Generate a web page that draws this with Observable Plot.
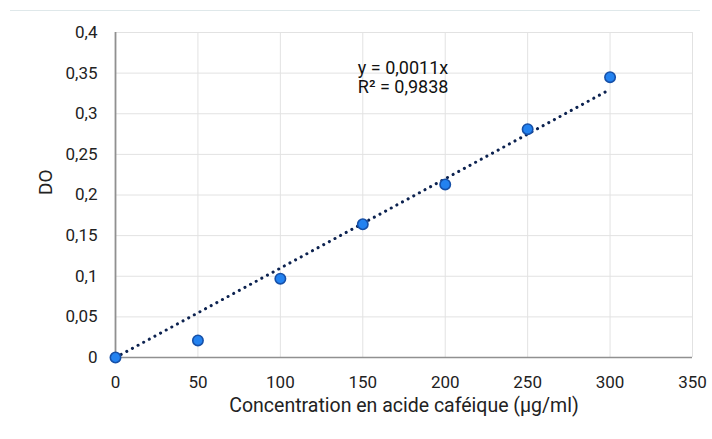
<!DOCTYPE html>
<html><head><meta charset="utf-8">
<script src="https://cdn.jsdelivr.net/npm/d3@7"></script>
<script src="https://cdn.jsdelivr.net/npm/@observablehq/plot@0.6"></script>
<style>
html,body{margin:0;padding:0;background:#fff;}
#wrap{position:relative;width:712px;height:439px;}
#topline{position:absolute;left:10px;top:10px;width:690px;height:0;border-top:1px solid #dfe8ea;}
</style>
</head><body>
<div id="wrap"><div id="topline"></div></div>
<script>
const concentrations = [0, 50, 100, 150, 200, 250, 300];
const absorbances = [0, 0.021, 0.097, 0.164, 0.213, 0.281, 0.345];
const slope = 0.0011;
const r2Label = "R² = 0,9838";
const eqLabel = "y = 0,0011x";
const xTicks = [0, 50, 100, 150, 200, 250, 300, 350];
const yTicks = [0, 0.05, 0.1, 0.15, 0.2, 0.25, 0.3, 0.35, 0.4];
const xLabel = "Concentration en acide caféique (µg/ml)";
const yLabel = "DO";

const points = concentrations.map((c, i) => ({x: c, y: absorbances[i]}));
const trend = [0, 300].map(x => ({x, y: slope * x}));
const fmt = d => String(+d.toFixed(2)).replace(".", ",");

const chart = Plot.plot({
  width: 712, height: 439,
  marginLeft: 115, marginRight: 20, marginTop: 32, marginBottom: 82,
  style: {fontFamily: "Roboto, sans-serif", fontSize: "17px", color: "#222", background: "transparent"},
  x: {domain: [0, 350], label: null},
  y: {domain: [0, 0.4], label: null},
  marks: [
    Plot.gridX(xTicks, {stroke: "#e2e2e2", strokeOpacity: 1, strokeWidth: 1}),
    Plot.gridY(yTicks, {stroke: "#e2e2e2", strokeOpacity: 1, strokeWidth: 1}),
    Plot.ruleX([0], {stroke: "#909090", strokeWidth: 1.8}),
    Plot.ruleY([0], {stroke: "#909090", strokeWidth: 1.5}),
    Plot.axisX({ticks: xTicks, tickFormat: fmt, tickSize: 0, tickPadding: 18, label: null, fontSize: 17}),
    Plot.axisY({ticks: yTicks, tickFormat: fmt, tickSize: 0, tickPadding: 18, label: null, fontSize: 17}),
    Plot.line(trend, {x: "x", y: "y", stroke: "#0c2250", strokeWidth: 3, strokeDasharray: "0.1 6.3", strokeLinecap: "round"}),
    Plot.dot(points, {x: "x", y: "y", r: 5.2, fill: "#2382f0", stroke: "#1650a8", strokeWidth: 1.6}),
    Plot.text([eqLabel + "\n" + r2Label], {x: 147, y: 0.366, text: d => d, textAnchor: "start", lineAnchor: "top", fontSize: 18, lineHeight: 1.06, fill: "#111"}),
    Plot.text([xLabel], {frameAnchor: "bottom", dy: 54, text: d => d, fontSize: 19.5, fill: "#222"}),
    Plot.text([yLabel], {frameAnchor: "left", dx: -70, rotate: -90, text: d => d, fontSize: 19, fill: "#222"})
  ]
});
chart.style.position = "absolute";
chart.style.left = "0";
chart.style.top = "0";
document.getElementById("wrap").appendChild(chart);
</script>
</body></html>
